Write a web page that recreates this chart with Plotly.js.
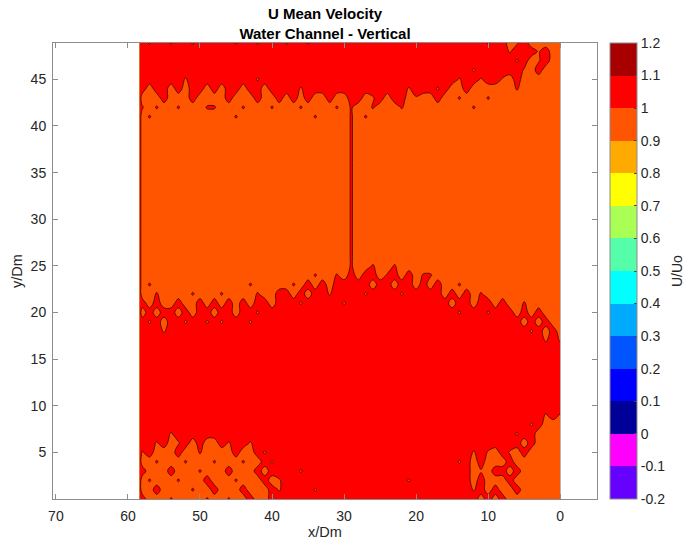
<!DOCTYPE html>
<html>
<head>
<meta charset="utf-8">
<script src="https://cdn.plot.ly/plotly-3.0.1.min.js"></script>
<style>
  html, body { margin: 0; padding: 0; background: #ffffff; }
  #chart { width: 684px; height: 545px; }
</style>
</head>
<body>
<div id="chart"></div>
<script>
// Streamwise mean velocity U/Uo on the measurement plane (x/Dm, y/Dm).
// Grid columns (x/Dm), left to right as drawn: edge column, then 58 ... 0.
const xCols = [58.4, 58, 57, 56, 55, 54, 53, 52, 51, 50, 49, 48, 47, 46, 45, 44, 43, 42, 41, 40,
               39, 38, 37, 36, 35, 34, 33, 32, 31, 30, 29, 28, 27, 26, 25, 24, 23, 22, 21, 20,
               19, 18, 17, 16, 15, 14, 13, 12, 11, 10, 9, 8, 7, 6, 5, 4, 3, 2, 1, 0];

// Grid rows (y/Dm), top to bottom.
const yRows = [48.9, 48, 47, 46, 45, 44, 43, 42, 41, 40, 38, 34, 30, 27, 26, 25, 24, 23, 22, 21,
               20, 19, 18, 17, 16, 14, 11, 10, 9, 8, 7, 6, 5, 4, 3, 2, 1, 0];

// Sampled U/Uo per cell, coded per row (groups of columns separated by spaces).
const uCode = { R: 1.05, O: 0.95, r: 1.01, o: 0.99 };
const uRows = [
  "R RoRRoRRoRR RRRoRRoRRR oRRoRRRRRR RRRRRRRRRR RRRRRRRRoR ROoROoOOO",
  "R RRRRRRRRRR RRRRRRRRRR RRRRRRRRRR RRRRRRRRRR RRRRRRRRRR RoRRRoROO",
  "R RRRRRRRRRR RRRRRRRRRR RRRRRRRRRR RRRRRRRRRR RRRRRRRRRR RRoROoROO",
  "R RRRRRRRRRR RRRRRRRRRR RRRRRRRRRR RRRRRRRRRR RRRRRRoRRR RRRoOROOO",
  "R RRRRRRoRRR RRRRRRoRRR RRRRRRRRRR RRRRRRRRRR RRRRoRRoRR oOROOOOOO",
  "R RORRORORRO RORRORRORR RRoRRRRRRR RRRRRRRoRR RoROOROOOO OOrOOOOOO",
  "R OOOROOOROO OOROOOROOR OROROOROOR ROoRORROoO OROOrOOOrO OOOOOOOOO",
  "R rOrOOrOOOr rOOOrOOOrO OOrOOOOrOr OOrOOOrOOO OOOOOOrOOO OOOOOOOOO",
  "R OrOOOOOOOO OOOrOOOOOO OOOOrOOOOr OrOOOOOOOO OOOOOOOOOO OOOOOOOOO",
  "R OOOOOOOOOO OOOOOOOOOO OOOOOOOOOr OOOOOOOOOO OOOOOOOOOO OOOOOOOOO",
  "R OOOOOOOOOO OOOOOOOOOO OOOOOOOOOr OOOOOOOOOO OOOOOOOOOO OOOOOOOOO",
  "R OOOOOOOOOO OOOOOOOOOO OOOOOOOOOr OOOOOOOOOO OOOOOOOOOO OOOOOOOOO",
  "R OOOOOOOOOO OOOOOOOOOO OOOOOOOOOr OOOOOOOOOO OOOOOOOOOO OOOOOOOOO",
  "R OOOOOOOOOO OOOOOOOOOO OOOOOOOOOr OOOOOOOOOO OOOOOOOOOO OOOOOOOOO",
  "R OOOOOOOOOO OOOOOOOOOO OOOOOOOOOr OOOOOOOOOO OOOOOOOOOO OOOOOOOOO",
  "R OOOOOOOOOO OOOOOOOOOO OOOOOOOOOr OOrOOrOOOO OOOOOOOOOO OOOOOOOOO",
  "R OOOOOOOOOO OOOOOOOOOO OOOOrOOrOR ORROrROROr rOOOOOOOOO OOOOOOOOO",
  "R OrOOOOOOOO OOOOOrOOOO OrORORORRR RRORRORROR OROOrOOOOO OOOOOOOOO",
  "R OOrOOOOrOO OrOOOOrOOR RORORRoRRR RoRRRRoRRR RRORORОrOO OOOOOOOOO".replace("О", "O"),
  "R ROROOROORO RORORORROR RRoRRRRRoR RRRRRRRRRR RRRORRORRO ROOrOOOOO",
  "R ORORRORORR ORRORRoRRR RRRRRRRRRR RRRRRRRRRR RRRRoRRRoR RROROROOO",
  "R RoRORRoRRo RoRRRoRRRR RRRRRRRRRR RRRRRRRRRR RRRRRRRRRR RRROROROO",
  "R RRRoRRRRRR RRRRRRRRRR RRRRRRRRRR RRRRRRRRRR RRRRRRRRRR RRRRoRORO",
  "R RRRRRRRRRR RRRRRRRRRR RRRRRRRRRR RRRRRRRRRR RRRRRRRRRR RRRRRRoRo",
  "R RRRRRRRRRR RRRRRRRRRR RRRRRRRRRR RRRRRRRRRR RRRRRRRRRR RRRRRRRRR",
  "R RRRRRRRRRR RRRRRRRRRR RRRRRRRRRR RRRRRRRRRR RRRRRRRRRR RRRRRRRRR",
  "R RRRRRRRRRR RRRRRRRRRR RRRRRRRRRR RRRRRRRRRR RRRRRRRRRR RRRRRRRRR",
  "R RRRRRRRRRR RRRRRRRRRR RRRRRRRRRR RRRRRRRRRR RRRRRRRRRR RRRRRRRRR",
  "R RRRRRRRRRR RRRRRRRRRR RRRRRRRRRR RRRRRRRRRR RRRRRRRRRR RRRRRRoRo",
  "R RRRRRRRRRR RRRRRRRRRR RRRRRRRRRR RRRRRRRRRR RRRRRRRRRR RRRRoROOO",
  "R RRRRoRRRRR RRRRRRRRRR RRRRRRRRRR RRRRRRRRRR RRRRRRRRRR RRoRROOOO",
  "R RRoROoRORO ORoRRoRRRR RRRRRRRRRR RRRRRRRRRR RRRRRRRRRR RRRORОOOO".replace("О", "O"),
  "R oROOOROOrO OOOROORoRR RRRRRRRRRR RRRRRRRRRR RRRRRRoRoO RoOROOOOO",
  "R OOrOOOrOOO rOOOrOORoR RRRRRRRRRR RRRRRRRRRR RRRRoROROO OROOOOOOO",
  "R ROOOROOOrO OOROOORORR RRoRRRRRRR RRRRRRRRRR RRRRRROoOR ROROOOOOO",
  "R OrOOOrOOOR OOOrOOOROo RRRRRRRRRR RRRRRRRoRR RRRRRROROO OROOOOOOO",
  "R OOROOOOrOO ROOOROOORo RRRRoRRRRR RRRRRRRRRR RRRRRRoROR OOROOOOOO",
  "R ROOOrOOOOr OOrOOROORR RRRRRRRRRR RRRRRRRRRR RRRRRRRORO ROOOOOOOO"
];

const zGrid = uRows.map(function (row) {
  return row.replace(/ /g, '').split('').map(function (c) { return uCode[c]; });
});

// Colour bands of the U/Uo scale, from -0.2 upward in steps of 0.1.
const bandColors = ['#6600ff', '#ff00ff', '#000099', '#0000ff', '#0055ff', '#00aaff', '#00ffff',
                    '#55ffaa', '#aaff55', '#ffff00', '#ffaa00', '#ff5500', '#ff0000', '#a80000'];
const levelTicks = [-0.2, -0.1, 0, 0.1, 0.2, 0.3, 0.4, 0.5, 0.6, 0.7, 0.8, 0.9, 1, 1.1, 1.2];
const levelLabels = ['-0.2', '-0.1', '0', '0.1', '0.2', '0.3', '0.4', '0.5', '0.6', '0.7', '0.8', '0.9', '1', '1.1', '1.2'];
const xTicks = [0, 10, 20, 30, 40, 50, 60, 70];
const yTicks = [5, 10, 15, 20, 25, 30, 35, 40, 45];

// Piecewise-constant scale: each band colour is held around the point where
// the filled contour band samples the scale.
const nBands = bandColors.length;
const stepScale = [];
bandColors.forEach(function (c, k) {
  const lo = Math.max(0, (k + 0.5) / nBands);
  const hi = Math.min(1, (k + 1.5) / nBands);
  stepScale.push([k === 0 ? 0 : lo, c]);
  stepScale.push([hi, c]);
});

const FONT = 'Liberation Sans, Arial, Helvetica, sans-serif';
const TXT = '#262626';
const AX = '#8c8c8c';

const contourLevels = { start: -0.2, end: 1.2, size: 0.1 };

const fillTrace = {
  type: 'contour',
  x: xCols, y: yRows, z: zGrid,
  autocontour: false,
  contours: Object.assign({ coloring: 'fill', showlines: false }, contourLevels),
  colorscale: stepScale,
  zmin: -0.2, zmax: 1.2,
  line: { smoothing: 0.9, width: 0 },
  hoverinfo: 'skip',
  colorbar: {
    thickness: 27, thicknessmode: 'pixels',
    len: 1, lenmode: 'fraction',
    x: (610 - 53) / 544, xanchor: 'left', xpad: 0,
    y: 0.5, yanchor: 'middle', ypad: 0,
    outlinecolor: AX, outlinewidth: 1,
    borderwidth: 0,
    tickvals: levelTicks, ticktext: levelLabels,
    ticks: 'inside', ticklen: 3, tickcolor: '#444',
    tickfont: { family: FONT, size: 14, color: TXT }
  }
};

const lineTrace = {
  type: 'contour',
  x: xCols, y: yRows, z: zGrid,
  autocontour: false,
  contours: Object.assign({ coloring: 'none', showlines: true }, contourLevels),
  line: { color: '#000000', width: 0.6, smoothing: 0.9 },
  showscale: false,
  hoverinfo: 'skip'
};

const axisCommon = {
  showline: true, linecolor: AX, linewidth: 1, mirror: 'ticks',
  ticks: 'inside', ticklen: 5, tickcolor: AX,
  showgrid: false, zeroline: false,
  tickfont: { family: FONT, size: 14, color: TXT }
};

const layout = {
  width: 684, height: 545,
  margin: { l: 53, r: 87, t: 43, b: 46 },
  paper_bgcolor: '#ffffff', plot_bgcolor: '#ffffff',
  showlegend: false,
  title: {
    text: '<b>U Mean Velocity</b><br><b>Water Channel - Vertical</b>',
    font: { family: FONT, size: 15, color: '#000000' },
    x: 0.5, xref: 'paper',
    y: 1 - 19 / 545, yref: 'container', yanchor: 'top'
  },
  xaxis: Object.assign({}, axisCommon, {
    range: [70.4, -5.1], autorange: false,
    tickvals: xTicks, ticklabelstandoff: 4,
    title: { text: 'x/Dm', font: { family: FONT, size: 14.5, color: TXT }, standoff: 4 }
  }),
  yaxis: Object.assign({}, axisCommon, {
    range: [0, 48.9], autorange: false,
    tickvals: yTicks, ticklabelstandoff: 3,
    title: { text: 'y/Dm', font: { family: FONT, size: 14.5, color: TXT }, standoff: 4 }
  }),
  annotations: [{
    text: 'U/Uo', xref: 'paper', yref: 'paper',
    x: (677 - 53) / 544, y: 0.5, xanchor: 'center', yanchor: 'middle',
    textangle: -90, showarrow: false,
    font: { family: FONT, size: 14, color: TXT }
  }]
};

Plotly.newPlot('chart', [fillTrace, lineTrace], layout, { displayModeBar: false, staticPlot: true });
</script>
</body>
</html>
